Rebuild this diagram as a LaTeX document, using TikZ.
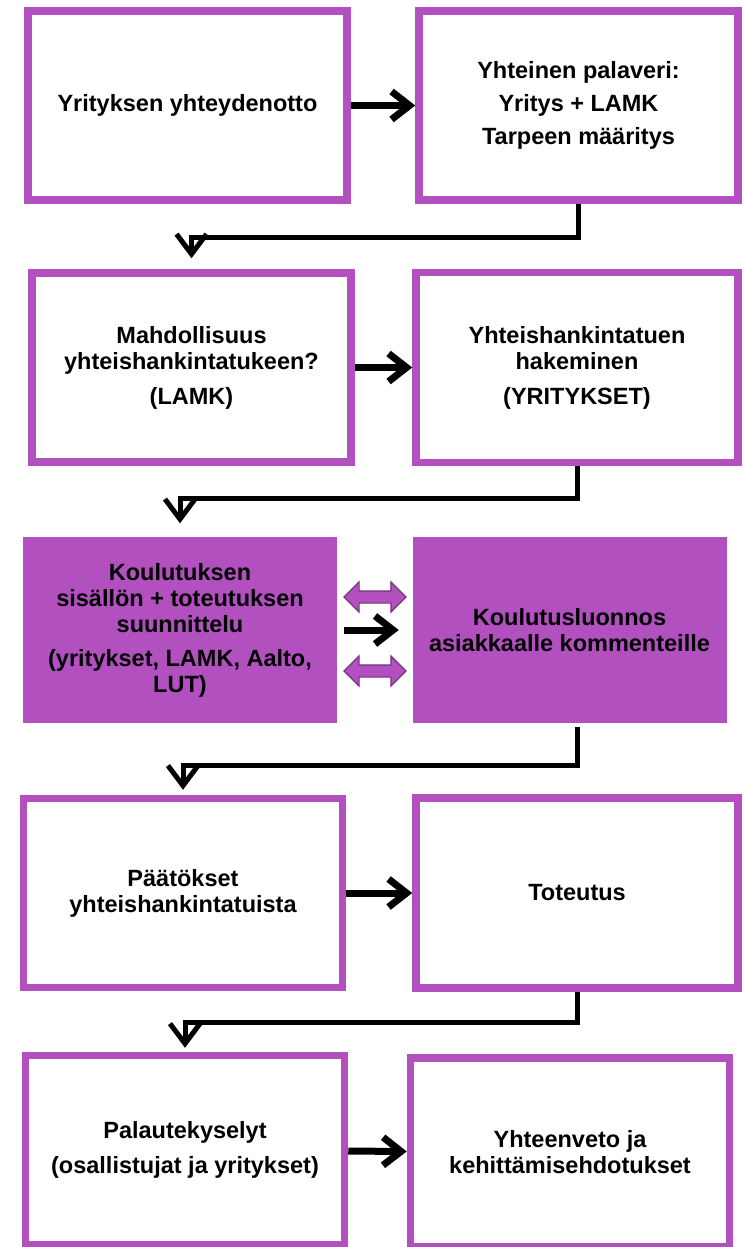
\documentclass[tikz,border=0pt]{standalone}
\usepackage{fontspec}
\setmainfont{Liberation Sans}
\usetikzlibrary{arrows.meta,shapes.arrows}
\definecolor{lamkpurple}{RGB}{178,80,192}

\begin{document}
\begin{tikzpicture}[x=1pt,y=-1pt,
  box/.style={rectangle,draw=lamkpurple,line width=7.5pt,fill=white,inner sep=0pt,
    minimum width=319pt,minimum height=189pt,align=center,
    font=\bfseries\fontsize{23.5}{26}\selectfont},
  wide box/.style={box,minimum width=322pt,minimum height=190pt},
  filled box/.style={box,draw=none,fill=lamkpurple,minimum width=314pt,minimum height=186pt},
  flow/.style={-{Straight Barb[length=20pt,width=30pt]},line width=5pt},
  next/.style={-{Straight Barb[length=18pt,width=28pt]},line width=7pt},
  both/.style={double arrow,draw=lamkpurple!65!black,fill=lamkpurple,line width=1.2pt,
    minimum height=62pt,minimum width=0pt,double arrow head extend=9pt,
    inner xsep=0pt,inner ysep=5.5pt}]

  \fill[white] (0,0) rectangle (744,1247);
  \useasboundingbox (0,0) rectangle (744,1247);

  \node[box]        (1)  at (187.5,105.5) {Yrityksen yhteydenotto};
  \node[box]        (2)  at (578.5,105.5) {Yhteinen palaveri:\\[7pt]Yritys + LAMK\\[7pt]Tarpeen määritys};
  \node[box]        (3)  at (191.5,367.5) {Mahdollisuus\\yhteishankintatukeen?\\[9pt](LAMK)};
  \node[wide box]   (4)  at (577,367.5)   {Yhteishankintatuen\\hakeminen\\[9pt](YRITYKSET)};
  \node[filled box] (5)  at (180,630)     {Koulutuksen\\sisällön + toteutuksen\\suunnittelu\\[8pt](yritykset, LAMK, Aalto,\\LUT)};
  \node[filled box] (6)  at (569.5,630)   {Koulutusluonnos\\asiakkaalle kommenteille};
  \node[box]        (7)  at (183,893)     {Päätökset\\yhteishankintatuista};
  \node[wide box]   (8)  at (577,893)     {Toteutus};
  \node[box]        (9)  at (185,1150)    {Palautekyselyt\\[9pt](osallistujat ja yritykset)};
  \node[box]        (10) at (570,1152.5)  {Yhteenveto ja\\kehittämisehdotukset};

  \node[both] (a) at (375,597) {};
  \node[both] (b) at (375,671) {};

  \path[next]
    (1) edge (2)
    (3) edge (4)
    (5) edge[shorten <=3pt,shorten >=10pt] (6)
    (7) edge (8)
    (9) edge (10);

  % zigzag down to the next row
  \draw[flow] (2.south) -- ++(0,34) -| ([yshift=11pt]3.north);
  \draw[flow] (4.south) -- ++(0,32) -| ([yshift=10pt]5.north);
  \draw[flow] ([xshift=7.5pt]6.south) -- ++(0,39) -| ([yshift=5pt]7.north);
  \draw[flow] (8.south) -- ++(0,31) -| ([yshift=4pt]9.north);
\end{tikzpicture}
\end{document}
